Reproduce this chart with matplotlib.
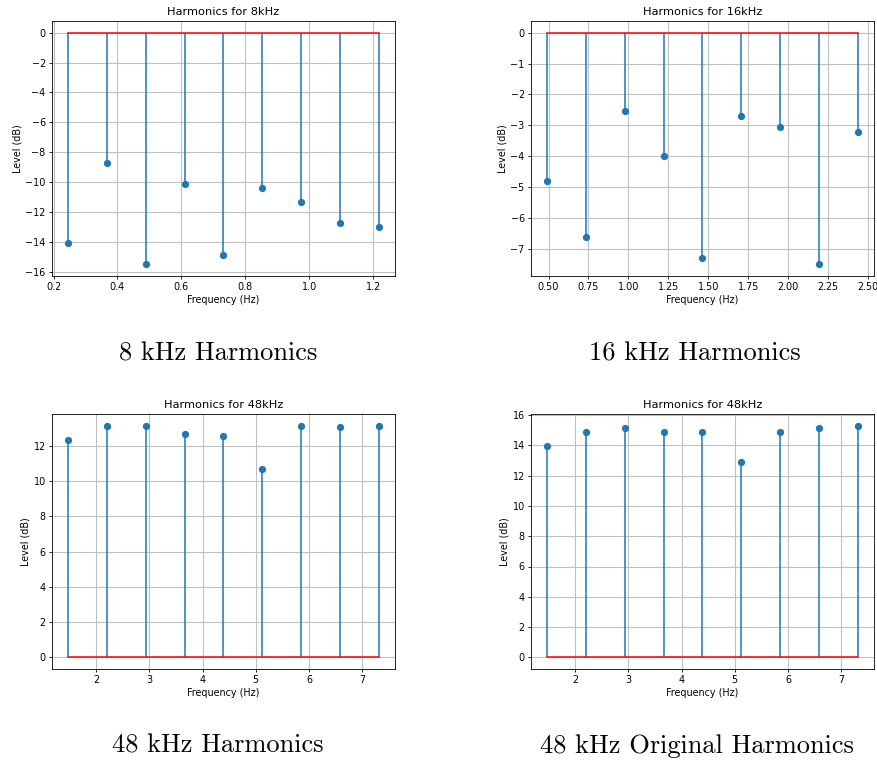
import matplotlib.pyplot as plt

# Harmonic frequencies and levels
freq_8k = [0.244, 0.366, 0.488, 0.610, 0.732, 0.854, 0.976, 1.098, 1.220]
level_8k = [-14.05, -8.75, -15.5, -10.1, -14.85, -10.4, -11.3, -12.75, -13.0]

freq_16k = [0.488, 0.732, 0.976, 1.220, 1.464, 1.708, 1.952, 2.196, 2.440]
level_16k = [-4.8, -6.6, -2.55, -4.0, -7.3, -2.7, -3.05, -7.5, -3.2]

freq_48k = [1.464, 2.196, 2.928, 3.660, 4.392, 5.124, 5.856, 6.588, 7.320]
level_48k = [12.35, 13.15, 13.1, 12.65, 12.55, 10.7, 13.15, 13.05, 13.15]
level_48k_orig = [13.95, 14.9, 15.15, 14.9, 14.85, 12.9, 14.9, 15.15, 15.3]

titles = ["Harmonics for 8kHz", "Harmonics for 16kHz",
          "Harmonics for 48kHz", "Harmonics for 48kHz"]
captions = ["8 kHz Harmonics", "16 kHz Harmonics",
            "48 kHz Harmonics", "48 kHz Original Harmonics"]

data = [(freq_8k, level_8k), (freq_16k, level_16k),
        (freq_48k, level_48k), (freq_48k, level_48k_orig)]

fig = plt.figure(figsize=(8.78, 7.64), dpi=100)

w = 343 / 878
h = 255 / 764
positions = [(52 / 878, 488 / 764), (531 / 878, 488 / 764),
             (52 / 878, 95 / 764), (531 / 878, 95 / 764)]
caption_pos = [(218 / 878, 1 - 354 / 764), (695 / 878, 1 - 354 / 764),
               (218 / 878, 1 - 746 / 764), (697 / 878, 1 - 746 / 764)]

for (x, y), title, pos in zip(data, titles, positions):
    ax = fig.add_axes([pos[0], pos[1], w, h])
    markerline, stemlines, baseline = ax.stem(x, y, basefmt='r-')
    markerline.set_markersize(4.2)
    stemlines.set_linewidth(1.1)
    baseline.set_linewidth(1.1)
    ax.set_title(title, fontsize=8.2, pad=4)
    ax.set_xlabel("Frequency (Hz)", fontsize=6.9, labelpad=2)
    ax.set_ylabel("Level (dB)", fontsize=6.9, labelpad=2)
    ax.tick_params(labelsize=6.9, length=2.5, width=0.6, pad=2)
    for s in ax.spines.values():
        s.set_linewidth(0.6)
    ax.grid(True, linewidth=0.8, color='#c0c0c0')

for (cx, cy), cap in zip(caption_pos, captions):
    fig.text(cx, cy, cap, fontname='cmr10', fontsize=19,
             ha='center', va='center')

fig.savefig('out.png', dpi=100)
